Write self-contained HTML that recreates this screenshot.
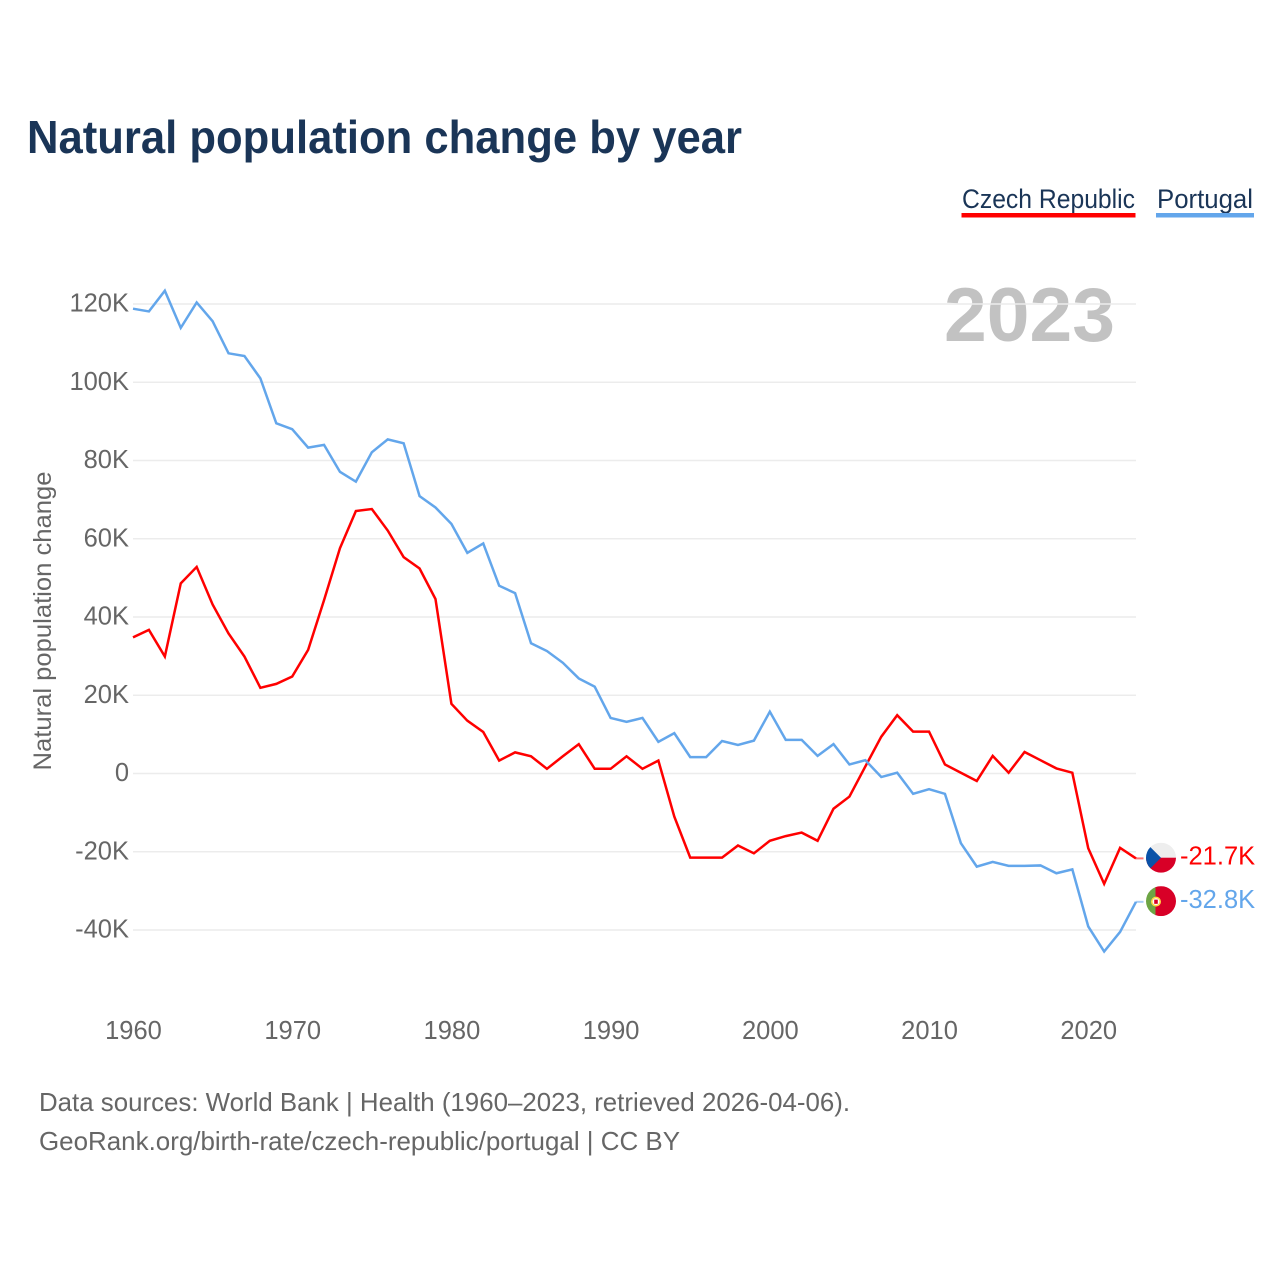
<!DOCTYPE html>
<html lang="en">
<head>
<meta charset="utf-8">
<title>Natural population change by year</title>
<style>
  html, body { margin: 0; padding: 0; background: #fff; }
  #chart { display: block; width: 1280px; height: 1280px; }
  text { font-family: "Liberation Sans", sans-serif; }
</style>
</head>
<body>
<svg id="chart" xmlns="http://www.w3.org/2000/svg" width="1280" height="1280" viewBox="0 0 1280 1280">
  <rect x="0" y="0" width="1280" height="1280" fill="#ffffff"></rect>
  <text x="27" y="153" font-size="46" font-weight="700" fill="#1a3557" textLength="715" lengthAdjust="spacingAndGlyphs">Natural population change by year</text>

  <g>
    <g>
      <text x="962" y="208" font-size="27" fill="#1a3557" textLength="173" lengthAdjust="spacingAndGlyphs">Czech Republic</text>
      <rect x="961.5" y="213" width="174" height="4.5" fill="#ff0000"></rect>
    </g>
    <g>
      <text x="1157" y="208" font-size="27" fill="#1a3557" textLength="96" lengthAdjust="spacingAndGlyphs">Portugal</text>
      <rect x="1156" y="213" width="98" height="4.5" fill="#63a6eb"></rect>
    </g>
  </g>

  <text x="944" y="341" font-size="76" font-weight="700" fill="#c2c2c2" textLength="171" lengthAdjust="spacingAndGlyphs">2023</text>

  <g id="grid"></g>
  <g id="y-axis"></g>
  <g id="x-axis"></g>
  <text transform="translate(51 621) rotate(-90)" text-anchor="middle" font-size="25" fill="#666666" textLength="299" lengthAdjust="spacingAndGlyphs">Natural population change</text>
  <g id="series"></g>

  <defs>
    <clipPath id="clip-cz"><circle cx="0" cy="0" r="15"></circle></clipPath>
    <clipPath id="clip-pt"><circle cx="0" cy="0" r="15"></circle></clipPath>
  </defs>

  <g id="flag-cz" clip-path="url(#clip-cz)">
    <rect x="-15" y="-15" width="30" height="15" fill="#eeeeee"></rect>
    <rect x="-15" y="0" width="30" height="15" fill="#d80027"></rect>
    <polygon points="-15,-15 0,0 -15,15" fill="#0a52a8"></polygon>
  </g>
  <g id="flag-pt" clip-path="url(#clip-pt)">
    <rect x="-15" y="-15" width="10" height="30" fill="#6da544"></rect>
    <rect x="-5.5" y="-15" width="20.5" height="30" fill="#d80027"></rect>
    <circle cx="-5" cy="0.5" r="4.2" fill="#ffffff" stroke="#ffda44" stroke-width="1.6"></circle>
    <rect x="-6.8" y="-1.5" width="3.6" height="4.2" fill="#d80027"></rect>
  </g>

  <text id="label-cz" x="1180" font-size="25.5" fill="#ff0000"></text>
  <text id="label-pt" x="1180" font-size="25.5" fill="#63a6eb"></text>

  <text x="39" y="1111" font-size="26" fill="#666666" textLength="811" lengthAdjust="spacingAndGlyphs">Data sources: World Bank | Health (1960–2023, retrieved 2026-04-06).</text>
  <a><text x="39" y="1150" font-size="26" fill="#666666" textLength="641" lengthAdjust="spacingAndGlyphs">GeoRank.org/birth-rate/czech-republic/portugal | CC BY</text></a>
</svg>

<script>
const firstYear = 1960;
const czechValues = [34.8,36.7,29.9,48.6,52.8,43.2,35.8,29.9,21.9,22.9,24.8,31.6,44.3,57.6,67.1,67.6,62.1,55.3,52.4,44.6,17.8,13.5,10.6,3.3,5.4,4.4,1.2,4.4,7.5,1.2,1.2,4.4,1.2,3.3,-11,-21.5,-21.5,-21.5,-18.4,-20.4,-17.2,-16,-15.1,-17.2,-9,-5.9,1.8,9.4,14.9,10.7,10.7,2.3,0.2,-1.9,4.5,0.2,5.5,3.4,1.3,0.2,-19.1,-28.2,-19,-21.7];
const portugalValues = [118.8,118.1,123.4,113.9,120.4,115.6,107.4,106.7,101,89.5,88,83.3,84,77.1,74.6,82.1,85.4,84.4,70.9,68,63.8,56.4,58.8,48,46.1,33.3,31.3,28.3,24.3,22.2,14.2,13.2,14.2,8.1,10.3,4.2,4.2,8.3,7.3,8.4,15.8,8.6,8.6,4.5,7.5,2.3,3.4,-0.9,0.2,-5.2,-4,-5.2,-17.8,-23.8,-22.6,-23.6,-23.6,-23.5,-25.5,-24.5,-39.1,-45.5,-40.5,-32.8];
const yTickValues = [120,100,80,60,40,20,0,-20,-40];
const yTickLabels = ['120K','100K','80K','60K','40K','20K','0','-20K','-40K'];
const xTickYears = [1960,1970,1980,1990,2000,2010,2020];

const SVGNS = 'http://www.w3.org/2000/svg';
function xScale(year) { return 133 + (year - 1960) * (1003 / 63); }
function yScale(v) { return 773.5 - v * 3.9125; }
function make(tag, attrs, parent) {
  const el = document.createElementNS(SVGNS, tag);
  for (const k in attrs) el.setAttribute(k, attrs[k]);
  parent.appendChild(el);
  return el;
}

const gridG = document.getElementById('grid');
const yG = document.getElementById('y-axis');
const xG = document.getElementById('x-axis');
const seriesG = document.getElementById('series');

yTickValues.forEach(function (v, i) {
  const line = make('line', { x1: 133, x2: 1136, y1: yScale(v), y2: yScale(v), stroke: '#ececec', 'stroke-width': 1.6 }, gridG);
  
  
  const label = make('text', { x: 129, y: yScale(v) + 7.5, 'text-anchor': 'end', 'font-size': 25.5, fill: '#666666' }, yG);
  label.textContent = yTickLabels[i];
  
  
});

xTickYears.forEach(function (year) {
  const label = make('text', { x: xScale(year) + 0.5, y: 1039, 'text-anchor': 'middle', 'font-size': 25.5, fill: '#666666' }, xG);
  label.textContent = String(year);
  
  
});

function drawSeries(values, color, flagId, labelId, lineName, stubName) {
  const pts = values.map(function (v, i) { return xScale(firstYear + i).toFixed(2) + ',' + yScale(v).toFixed(2); }).join(' ');
  const line = make('polyline', { points: pts, fill: 'none', stroke: color, 'stroke-width': 2.5, 'stroke-linejoin': 'miter' }, seriesG);
  
  
  const last = values[values.length - 1];
  const endX = xScale(firstYear + values.length - 1);
  const stub = make('line', { x1: endX, x2: endX + 7.5, y1: yScale(last), y2: yScale(last), stroke: color, 'stroke-width': 2, opacity: 0.55 }, seriesG);
  
  
  document.getElementById(flagId).setAttribute('transform', 'translate(1161 ' + (yScale(last) - 0.7).toFixed(2) + ')');
  const lab = document.getElementById(labelId);
  lab.setAttribute('y', (yScale(last) + 6).toFixed(2));
  lab.textContent = last.toFixed(1) + 'K';
}

drawSeries(czechValues, '#ff0000', 'flag-cz', 'label-cz', 'line-czech-republic', 'end-stub-czech-republic');
drawSeries(portugalValues, '#63a6eb', 'flag-pt', 'label-pt', 'line-portugal', 'end-stub-portugal');
</script>
</body>
</html>
